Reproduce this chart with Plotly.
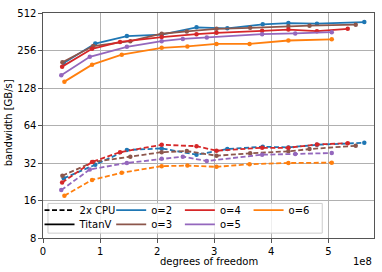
import plotly.graph_objects as go

# degrees of freedom per order (same grid for GPU and CPU runs)
dofs_o2 = [0.363e8, 0.916e8, 1.47e8, 2.08e8, 2.69e8, 3.23e8, 3.85e8, 4.30e8, 4.80e8, 5.63e8]
dofs_o3 = [0.34e8, 0.88e8, 1.53e8, 2.08e8, 2.52e8, 3.04e8, 3.63e8, 4.30e8, 4.67e8, 5.48e8]
dofs_o4 = [0.335e8, 0.86e8, 1.35e8, 2.08e8, 2.69e8, 3.04e8, 3.84e8, 4.30e8, 4.80e8, 5.34e8]
dofs_o5 = [0.32e8, 0.82e8, 1.47e8, 2.08e8, 2.45e8, 2.87e8, 3.84e8, 4.42e8, 5.06e8]
dofs_o6 = [0.375e8, 0.86e8, 1.38e8, 2.08e8, 2.53e8, 3.04e8, 3.62e8, 4.30e8, 5.06e8]

# bandwidth in GB/s, TitanV
gpu_o2 = [203, 291, 334, 343, 393, 386, 415, 425, 420, 433]
gpu_o3 = [206, 278, 304, 349, 364, 382, 389, 400, 405, 413]
gpu_o4 = [190, 264, 300, 328, 346, 355, 368, 377, 366, 382]
gpu_o5 = [162, 228, 274, 304, 317, 325, 346, 351, 359]
gpu_o6 = [144, 197, 237, 269, 276, 289, 289, 308, 315]

# bandwidth in GB/s, 2x CPU
cpu_o2 = [24.1, 31.0, 40.7, 41.9, 37.3, 41.4, 43.2, 42.7, 44.8, 46.5]
cpu_o3 = [25.3, 32.6, 36.0, 39.1, 39.9, 36.6, 38.3, 39.7, 41.4, 44.0]
cpu_o4 = [22.3, 32.6, 39.1, 44.8, 43.7, 40.2, 42.4, 42.4, 45.1, 46.1]
cpu_o5 = [19.4, 28.4, 32.0, 34.6, 36.0, 33.2, 37.3, 37.8, 38.5]
cpu_o6 = [17.5, 23.4, 26.7, 30.2, 30.5, 29.8, 31.3, 32.0, 32.2]

series = [
    ("o=2", "#1f77b4", dofs_o2, gpu_o2, cpu_o2),
    ("o=3", "#8c564b", dofs_o3, gpu_o3, cpu_o3),
    ("o=4", "#d62728", dofs_o4, gpu_o4, cpu_o4),
    ("o=5", "#9467bd", dofs_o5, gpu_o5, cpu_o5),
    ("o=6", "#ff7f0e", dofs_o6, gpu_o6, cpu_o6),
]

y_ticks = [8, 16, 32, 64, 128, 256, 512]
x_ticks = [0, 1e8, 2e8, 3e8, 4e8, 5e8]
x_tick_labels = ["0", "1", "2", "3", "4", "5"]

FONT = "DejaVu Sans"
DASH = "5px,2.5px"
fig = go.Figure()

for name, color, x, g, c in series:
    fig.add_trace(go.Scatter(x=x, y=c, mode="lines+markers", showlegend=False,
                             line=dict(color=color, width=1.8, dash=DASH),
                             marker=dict(color=color, size=4.5)))
for name, color, x, g, c in series:
    fig.add_trace(go.Scatter(x=x, y=g, mode="lines+markers", showlegend=False,
                             line=dict(color=color, width=1.8),
                             marker=dict(color=color, size=4.5)))

W, H = 382, 272
L, R, T, B = 42.5, 375, 7, 238

def px_x(p):
    return (p - L) / (R - L)

def px_y(p):
    return (B - p) / (B - T)

# legend entries, each in its own legend so they sit in a 4x2 grid
legend_items = [
    ("2x CPU", "black", DASH, 39, 209.3),
    ("TitanV", "black", "solid", 39, 224),
    ("o=2", "#1f77b4", "solid", 111, 209.3),
    ("o=3", "#8c564b", "solid", 111, 224),
    ("o=4", "#d62728", "solid", 180, 209.3),
    ("o=5", "#9467bd", "solid", 180, 224),
    ("o=6", "#ff7f0e", "solid", 249, 209.3),
]

layout_legends = {}
for i, (name, color, dash, lx, ly) in enumerate(legend_items):
    key = "legend" if i == 0 else f"legend{i+1}"
    fig.add_trace(go.Scatter(x=[None], y=[None], mode="lines", name=name,
                             legend=key, line=dict(color=color, width=1.8, dash=dash)))
    layout_legends[key] = dict(x=px_x(lx), y=px_y(ly), xanchor="left", yanchor="middle",
                               bgcolor="rgba(0,0,0,0)", borderwidth=0,
                               font=dict(family=FONT, size=10, color="black"),
                               itemwidth=30)

fig.update_layout(**layout_legends)

fig.add_shape(type="rect", xref="paper", yref="paper",
              x0=px_x(47.5), x1=px_x(323), y0=px_y(233), y1=px_y(202.5),
              line=dict(color="#cccccc", width=1), fillcolor="rgba(255,255,255,0.8)",
              layer="above")

fig.update_layout(
    width=W, height=H,
    margin=dict(l=L, r=W - R, t=T, b=H - B, pad=0),
    paper_bgcolor="white", plot_bgcolor="white",
    font=dict(family=FONT, size=10, color="black"),
    xaxis=dict(range=[0, 5.8e8], tickvals=x_ticks, ticktext=x_tick_labels,
               showgrid=True, gridcolor="#b0b0b0", gridwidth=0.8,
               showline=True, linecolor="#555555", linewidth=1.2, mirror=True,
               ticks="outside", ticklen=3.5, tickcolor="#555555",
               zeroline=False),
    yaxis=dict(type="log", range=[0.90309, 2.70927], tickvals=y_ticks,
               ticktext=[str(v) for v in y_ticks],
               showgrid=True, gridcolor="#b0b0b0", gridwidth=0.8,
               showline=True, linecolor="#555555", linewidth=1.2, mirror=True,
               ticks="outside", ticklen=3.5, tickcolor="#555555",
               zeroline=False),
)

fig.add_annotation(text="degrees of freedom", xref="paper", yref="paper",
                   x=px_x(209), y=px_y(262), xanchor="center", yanchor="middle",
                   showarrow=False, font=dict(family=FONT, size=10, color="black"))
fig.add_annotation(text="bandwidth [GB/s]", xref="paper", yref="paper", textangle=-90,
                   x=px_x(7.5), y=px_y(120), xanchor="center", yanchor="middle",
                   showarrow=False, font=dict(family=FONT, size=10, color="black"))
fig.add_annotation(text="1e8", xref="paper", yref="paper", x=px_x(374.5), y=px_y(262),
                   xanchor="right", yanchor="middle", showarrow=False,
                   font=dict(family=FONT, size=10, color="black"))

fig.write_html("out.html", config={"displayModeBar": False},
               post_script="document.body.style.margin='0';document.body.style.overflow='hidden';")
